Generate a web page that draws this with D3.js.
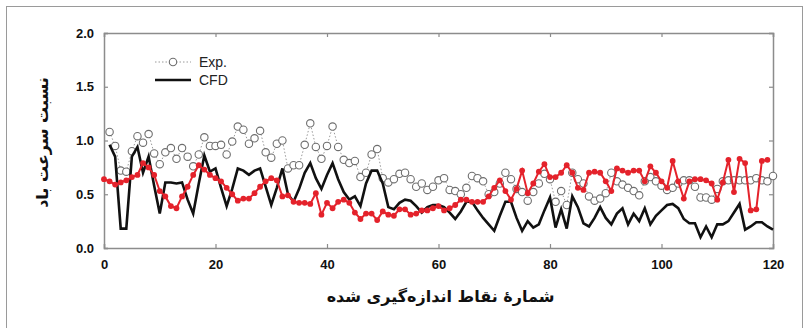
<!DOCTYPE html>
<html>
<head>
<meta charset="utf-8">
<script src="https://cdn.jsdelivr.net/npm/d3@7"></script>
<style>
  body { margin: 0; background: #fff; }
  svg { display: block; }
</style>
</head>
<body>
<div id="chart"></div>
<script>
const expValues = [1.08,0.95,0.72,0.71,0.90,1.04,0.98,1.06,0.88,0.78,
  0.89,0.93,0.83,0.93,0.85,0.76,0.87,1.03,0.95,0.95,
  0.96,0.87,0.99,1.13,1.10,0.97,1.02,1.09,0.89,0.84,
  0.97,1.00,0.74,0.77,0.77,0.96,1.16,0.94,0.83,0.95,
  1.13,0.94,0.82,0.79,0.81,0.66,0.70,0.87,0.92,0.65,
  0.61,0.64,0.69,0.70,0.64,0.57,0.60,0.54,0.57,0.63,
  0.65,0.54,0.53,0.50,0.56,0.67,0.65,0.62,0.50,0.52,
  0.60,0.70,0.64,0.55,0.52,0.44,0.52,0.60,0.69,0.64,
  0.43,0.53,0.40,0.70,0.64,0.60,0.48,0.44,0.46,0.51,
  0.70,0.62,0.59,0.56,0.53,0.49,0.62,0.66,0.62,0.58,
  0.54,0.56,0.60,0.63,0.63,0.57,0.47,0.47,0.45,0.55,
  0.62,0.63,0.63,0.63,0.63,0.63,0.65,0.63,0.62,0.67];

const cfdValues = [0.96,0.85,0.18,0.18,0.85,0.94,0.70,0.85,0.58,0.32,
  0.61,0.61,0.60,0.61,0.45,0.32,0.60,0.86,0.71,0.74,
  0.56,0.39,0.55,0.74,0.72,0.68,0.72,0.74,0.57,0.40,
  0.56,0.74,0.50,0.43,0.55,0.70,0.79,0.65,0.55,0.68,
  0.79,0.64,0.52,0.45,0.48,0.39,0.60,0.72,0.72,0.60,
  0.38,0.36,0.42,0.45,0.44,0.39,0.33,0.38,0.40,0.40,
  0.38,0.33,0.27,0.34,0.43,0.43,0.35,0.28,0.22,0.16,
  0.30,0.43,0.43,0.28,0.16,0.25,0.19,0.22,0.35,0.47,
  0.19,0.36,0.18,0.48,0.38,0.23,0.20,0.28,0.38,0.28,
  0.22,0.32,0.37,0.22,0.32,0.25,0.37,0.22,0.30,0.35,
  0.40,0.41,0.37,0.27,0.23,0.23,0.10,0.20,0.10,0.22,
  0.22,0.25,0.33,0.41,0.17,0.20,0.24,0.24,0.20,0.17];

// red series (no legend entry), starts at point 0
const redValues = [0.64,0.62,0.59,0.61,0.63,0.66,0.68,0.79,0.75,0.68,
  0.53,0.48,0.39,0.37,0.48,0.57,0.68,0.77,0.73,0.68,
  0.65,0.62,0.56,0.50,0.44,0.46,0.46,0.51,0.57,0.62,
  0.65,0.63,0.48,0.49,0.43,0.42,0.42,0.41,0.51,0.31,
  0.42,0.37,0.43,0.45,0.42,0.33,0.27,0.32,0.32,0.26,
  0.34,0.31,0.30,0.36,0.36,0.31,0.32,0.35,0.35,0.37,
  0.39,0.35,0.37,0.40,0.45,0.45,0.43,0.43,0.43,0.48,
  0.56,0.63,0.53,0.45,0.55,0.72,0.51,0.60,0.71,0.78,
  0.66,0.66,0.70,0.77,0.70,0.56,0.54,0.70,0.71,0.70,
  0.62,0.53,0.74,0.72,0.70,0.72,0.72,0.62,0.76,0.70,
  0.62,0.56,0.81,0.62,0.46,0.62,0.64,0.64,0.63,0.60,
  0.45,0.61,0.82,0.52,0.83,0.79,0.35,0.36,0.81,0.82];

const xTicks = [0, 20, 40, 60, 80, 100, 120];
const yTicks = [0, 0.5, 1.0, 1.5, 2.0];
const legendLabels = ['Exp.', 'CFD'];
const xTitle = 'شمارهٔ  نقاط اندازه‌گیری شده';
const yTitle = 'نسبت سرعت باد';

const W = 805, H = 328;
const margin = { top: 33, right: 32, bottom: 80, left: 104 };
const width = W - margin.left - margin.right;
const height = H - margin.top - margin.bottom;

const svg = d3.select('#chart').append('svg')
  .attr('width', W).attr('height', H);

// outer frame of the figure
svg.append('rect')
  .attr('x', 6.5).attr('y', 6.5)
  .attr('width', 796).attr('height', 340)
  .attr('fill', 'none').attr('stroke', '#9a9a9a').attr('stroke-width', 1);

const g = svg.append('g').attr('transform', `translate(${margin.left},${margin.top})`);

const x = d3.scaleLinear().domain([0, 120]).range([0, width]);
const y = d3.scaleLinear().domain([0, 2]).range([height, 0]);

const tickFont = '"Liberation Sans Narrow", "Liberation Sans", Arial, sans-serif';

// axes, ticks pointing inward
const xAxis = g.append('g').attr('transform', `translate(0,${height})`)
  .call(d3.axisBottom(x).tickValues(xTicks).tickSize(-4).tickPadding(12).tickFormat(d3.format('d')));
const yAxis = g.append('g')
  .call(d3.axisLeft(y).tickValues(yTicks).tickSize(-4).tickPadding(10).tickFormat(d3.format('.1f')));
const xTop = g.append('g')
  .call(d3.axisTop(x).tickValues(xTicks).tickSize(-4).tickFormat(''));
const yRight = g.append('g').attr('transform', `translate(${width},0)`)
  .call(d3.axisRight(y).tickValues(yTicks).tickSize(-4).tickFormat(''));

[xAxis, yAxis, xTop, yRight].forEach(a => {
  a.select('.domain').attr('stroke', '#8c8c8c').attr('stroke-width', 1.5);
  a.selectAll('.tick line').attr('stroke', '#8c8c8c').attr('stroke-width', 1.2);
  a.selectAll('text')
    .style('font-family', tickFont)
    .style('font-size', '13px')
    .style('font-weight', 'bold')
    .attr('fill', '#111');
});

// Exp: dotted line with open circles
const expData = expValues.map((v, i) => ({ x: i + 1, y: v }));
const cfdData = cfdValues.map((v, i) => ({ x: i + 1, y: v }));
const redData = redValues.map((v, i) => ({ x: i, y: v }));

const line = d3.line().x(d => x(d.x)).y(d => y(d.y));

g.append('path').datum(expData)
  .attr('d', line)
  .attr('fill', 'none')
  .attr('stroke', '#9a9a9a')
  .attr('stroke-width', 1)
  .attr('stroke-dasharray', '1.5,2');

g.selectAll('.exp-pt').data(expData).join('circle')
  .attr('class', 'exp-pt')
  .attr('cx', d => x(d.x)).attr('cy', d => y(d.y))
  .attr('r', 3.7)
  .attr('fill', '#fff')
  .attr('stroke', '#6e6e6e')
  .attr('stroke-width', 1.1);

// CFD: thick black line
g.append('path').datum(cfdData)
  .attr('d', line)
  .attr('fill', 'none')
  .attr('stroke', '#111')
  .attr('stroke-width', 2.6)
  .attr('stroke-linejoin', 'miter');

// red series with filled dots
g.append('path').datum(redData)
  .attr('d', line)
  .attr('fill', 'none')
  .attr('stroke', '#e4222b')
  .attr('stroke-width', 2);

g.selectAll('.red-pt').data(redData).join('circle')
  .attr('class', 'red-pt')
  .attr('cx', d => x(d.x)).attr('cy', d => y(d.y))
  .attr('r', 2.9)
  .attr('fill', '#e4222b');

// legend
const leg = g.append('g').attr('transform', `translate(${155 - margin.left},${62 - margin.top})`);
leg.append('line').attr('x1', 0).attr('x2', 36).attr('y1', 0).attr('y2', 0)
  .attr('stroke', '#9a9a9a').attr('stroke-width', 1).attr('stroke-dasharray', '1.5,2');
leg.append('circle').attr('cx', 18).attr('cy', 0).attr('r', 3.7)
  .attr('fill', '#fff').attr('stroke', '#6e6e6e').attr('stroke-width', 1.1);
leg.append('line').attr('x1', 0).attr('x2', 36).attr('y1', 18).attr('y2', 18)
  .attr('stroke', '#111').attr('stroke-width', 2.6);
leg.selectAll('text').data(legendLabels).join('text')
  .attr('x', 44).attr('y', (d, i) => i * 18)
  .attr('dy', '0.35em')
  .style('font-family', tickFont)
  .style('font-size', '14px')
  .attr('fill', '#222')
  .text(d => d);

// axis titles
svg.append('text')
  .attr('x', margin.left + width / 2 + 2)
  .attr('y', 302)
  .attr('text-anchor', 'middle')
  .attr('direction', 'rtl')
  .style('font-family', '"DejaVu Sans", "Noto Sans", sans-serif')
  .style('font-size', '16px')
  .style('font-weight', 'bold')
  .attr('fill', '#111')
  .text(xTitle);

svg.append('text')
  .attr('transform', `translate(48,${margin.top + height / 2 + 2}) rotate(-90)`)
  .attr('text-anchor', 'middle')
  .attr('direction', 'rtl')
  .style('font-family', '"DejaVu Sans", "Noto Sans", sans-serif')
  .style('font-size', '16px')
  .style('font-weight', 'bold')
  .attr('fill', '#111')
  .text(yTitle);
</script>
</body>
</html>
